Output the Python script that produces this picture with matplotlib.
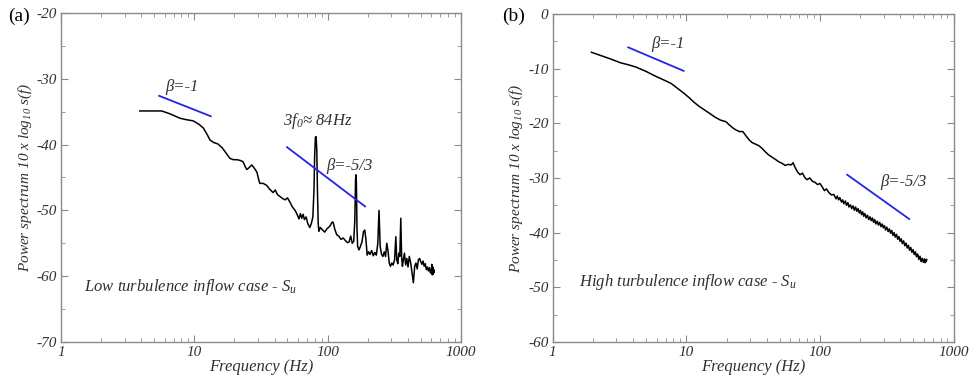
import matplotlib
matplotlib.use("Agg")
import matplotlib.pyplot as plt
from matplotlib.ticker import FixedLocator, LogLocator, MultipleLocator, NullFormatter

# ---- data ----
left_f = [3.9, 5.7, 6.5, 7.2, 7.8, 8.6, 9.8, 10.8, 11.7, 12.5, 13.1, 14.0, 15.0, 16.2, 17.3,
          18.5, 19.6, 20.8, 22.0, 23.2, 24.0, 24.8, 25.8, 27.0, 28.2, 29.5, 30.3, 31.0, 32.8,
          34.9, 36.8, 39.0, 40.5, 42.0, 44.0, 46.0, 48.0, 50.0, 52.0, 54.5, 57.0, 59.0, 61.0,
          62.5, 64.0, 65.5, 67.0, 69.0, 71.0, 73.5, 75.5, 77.5, 79.0, 80.0, 81.0, 82.0, 83.0,
          84.0, 85.0, 86.0, 88.0, 91.0, 95.0, 99.0, 104, 108, 110, 113, 117, 121, 126, 131,
          136, 141, 145, 149, 153, 157, 160, 162, 163, 164.5, 166, 168, 172, 176, 181, 186,
          190, 194, 198, 203, 208, 214, 220, 226, 232, 238, 243, 248, 254, 260, 266, 272,
          278, 284, 290, 296, 303, 310, 318, 325, 330, 336, 342, 348, 354, 359, 364, 370,
          377, 385, 393, 401, 410, 420, 430, 440, 450, 460, 470, 480, 490, 500, 510, 520,
          530, 540, 550, 560, 570, 580, 590, 600, 605, 610, 615, 620, 625, 630]
left_db = [-34.9, -34.9, -35.3, -35.7, -36.0, -36.2, -36.4, -36.9, -37.5, -38.5, -39.3, -39.7,
           -39.9, -40.5, -41.3, -42.1, -42.3, -42.3, -42.4, -42.6, -43.3, -43.8, -43.5, -43.1,
           -43.6, -44.2, -45.2, -45.9, -45.9, -46.2, -46.8, -47.3, -46.9, -47.6, -47.9, -48.2,
           -48.4, -48.1, -48.7, -49.5, -50.0, -50.6, -51.3, -50.5, -51.2, -50.6, -51.4, -51.0,
           -52.0, -52.6, -52.0, -51.0, -47.0, -41.5, -38.9, -38.8, -41.0, -47.5, -52.0, -53.2,
           -52.6, -52.9, -53.3, -52.8, -52.4, -51.8, -51.8, -52.8, -53.7, -53.9, -54.4, -54.2,
           -54.6, -54.9, -54.8, -53.9, -55.0, -54.7, -51.5, -45.5, -44.6, -46.0, -52.5, -55.5,
           -56.0, -55.5, -54.8, -53.2, -53.0, -54.5, -56.8, -56.3, -56.7, -56.1, -56.9, -56.4,
           -56.8, -55.0, -50.0, -55.5, -56.7, -57.0, -56.3, -57.0, -55.0, -56.2, -58.0, -58.5,
           -58.0, -58.3, -57.5, -54.0, -57.5, -58.1, -56.5, -57.0, -51.2, -57.0, -58.5, -57.5,
           -56.5, -58.3, -57.3, -58.6, -57.0, -58.0, -59.5, -61.0, -58.5, -58.0, -58.9, -57.5,
           -57.3, -57.8, -58.2, -57.7, -58.5, -58.1, -59.0, -58.6, -59.2, -58.7, -59.5, -59.0,
           -58.2, -59.8, -58.6, -59.7, -59.0, -59.4]

right_f = [1.95, 2.3, 2.7, 3.2, 3.7, 4.2, 5.0, 5.8, 6.7, 7.7, 8.6, 9.5, 10.5, 11.5, 12.5, 13.8,
           15.0, 16.5, 18.0, 19.8, 21.0, 22.5, 23.5, 25.0, 26.5, 28.0, 29.5, 31.0, 33.0, 35.0,
           37.0, 39.0, 41.5, 44.0, 46.5, 49.0, 52.0, 55.0, 58.0, 61.0, 63.0, 65.0, 68.0, 71.0,
           74.0, 77.0, 80.0, 84.0, 88.0, 92.0, 96.0, 100, 104, 108, 112, 117, 122, 127, 132,
           135, 138, 141, 145, 148, 151, 155, 158, 162, 165, 169, 173, 177, 181, 185, 189, 193,
           197, 201, 205, 209, 213, 217, 222, 227, 232, 237, 242, 247, 252, 257, 262, 268, 274,
           280, 286, 292, 298, 304, 310, 317, 324, 331, 338, 345, 352, 359, 366, 374, 382, 390,
           398, 406, 414, 423, 432, 441, 450, 459, 468, 478, 488, 498, 508, 518, 528, 539, 550,
           561, 572, 583, 594, 605, 612, 618, 624, 630]
right_db = [-7.0, -7.6, -8.2, -8.9, -9.3, -9.7, -10.5, -11.3, -12.0, -12.7, -13.6, -14.4, -15.3,
            -16.2, -16.9, -17.6, -18.2, -18.9, -19.4, -19.7, -20.3, -20.9, -21.2, -21.5, -21.5,
            -22.3, -23.0, -23.5, -23.8, -24.1, -24.6, -25.2, -25.8, -26.2, -26.6, -27.0, -27.3,
            -27.7, -27.5, -27.6, -27.2, -28.0, -28.9, -29.4, -29.1, -29.9, -30.3, -30.0, -30.6,
            -30.8, -31.2, -31.0, -31.6, -32.3, -32.0, -32.7, -33.1, -33.0, -33.8,
            -33.3, -34.0, -33.6, -34.4, -34.0, -34.7, -34.2, -35.0, -34.5, -35.3, -34.9, -35.6,
            -35.1, -35.9, -35.3, -36.1, -35.6, -36.4, -35.9, -36.7, -36.2, -37.0, -36.5, -37.3,
            -36.8, -37.6, -37.1, -37.8, -37.3, -38.1, -37.6, -38.4, -37.9, -38.6, -38.1, -38.9,
            -38.4, -39.1, -38.7, -39.5, -39.0, -39.8, -39.3, -40.1, -39.6, -40.5, -40.0, -40.8,
            -40.3, -41.2, -40.7, -41.6, -41.1, -42.0, -41.5, -42.4, -41.9, -42.8, -42.3, -43.2,
            -42.7, -43.6, -43.1, -44.0, -43.5, -44.4, -43.9, -44.9, -44.3, -45.3, -44.7, -45.4,
            -44.8, -45.5, -45.0, -45.3, -44.9]

# slope guide lines (start, end)
left_guides = [([5.45, 13.3], [-32.6, -35.7]), ([49.6, 191], [-40.4, -49.4])]
right_guides = [([3.68, 9.55], [-6.1, -10.4]), ([160, 466], [-29.4, -37.5])]

xticks = [1, 10, 100, 1000]
xticklabels = ["1", "10", "100", "1000"]

SERIF = ["Liberation Serif", "DejaVu Serif"]
TXT = "#303030"
SPINE = "#8a8a8a"

plt.rcParams["axes.unicode_minus"] = False
plt.rcParams["mathtext.fontset"] = "custom"
plt.rcParams["mathtext.it"] = "Liberation Serif:italic"
plt.rcParams["mathtext.rm"] = "Liberation Serif:italic"

fig = plt.figure(figsize=(9.73, 3.77), dpi=100)
axL = fig.add_axes([0.0627, 0.0928, 0.411, 0.873])
axR = fig.add_axes([0.568, 0.0928, 0.412, 0.870])


def style(ax, ylim, yticks):
    ax.set_xscale("log")
    ax.set_xlim(1, 1000)
    ax.set_ylim(*ylim)
    ax.xaxis.set_major_locator(FixedLocator(xticks))
    ax.set_xticklabels(xticklabels)
    ax.xaxis.set_minor_locator(LogLocator(base=10, subs=range(2, 10)))
    ax.xaxis.set_minor_formatter(NullFormatter())
    ax.set_yticks(yticks)
    ax.yaxis.set_minor_locator(MultipleLocator(5))
    ax.tick_params(which="both", direction="in", top=True, right=True, color=SPINE)
    ax.tick_params(which="major", length=5, width=0.8, pad=3)
    ax.tick_params(which="minor", length=3, width=0.6)
    for lab in ax.get_xticklabels() + ax.get_yticklabels():
        lab.set_family(SERIF)
        lab.set_style("italic")
        lab.set_fontsize(11)
        lab.set_color(TXT)
    for sp in ax.spines.values():
        sp.set_color(SPINE)
        sp.set_linewidth(1.0)
    ax.set_xlabel("Frequency (Hz)", family=SERIF, style="italic", fontsize=12,
                  color=TXT, labelpad=0)
    ax.set_ylabel(r"Power spectrum 10 x log$_{10}$ s(f)", family=SERIF, style="italic",
                  fontsize=11, color=TXT, labelpad=2)


# panel (a)
axL.plot(left_f, left_db, color="black", lw=1.1)
for gx, gy in left_guides:
    axL.plot(gx, gy, color="#2424e6", lw=1.3)
style(axL, (-70, -20), range(-70, -19, 10))
tk = dict(family=SERIF, style="italic", fontsize=12, color=TXT)
axL.text(8.1, -31.2, "β=-1", ha="center", va="center", **tk)
axL.text(85, -36.4, r"3f$_0$≈ 84Hz", ha="center", va="center", **tk)
axL.text(145, -43.2, "β=-5/3", ha="center", va="center", **tk)
axL.text(1.5, -61.7, r"Low turbulence inflow case - S$_u$", ha="left", va="center", **tk)

# panel (b)
axR.plot(right_f, right_db, color="black", lw=1.1)
for gx, gy in right_guides:
    axR.plot(gx, gy, color="#2424e6", lw=1.3)
style(axR, (-60, 0), range(-60, 1, 10))
axR.text(7.25, -5.4, "β=-1", ha="center", va="center", **tk)
axR.text(424, -30.8, "β=-5/3", ha="center", va="center", **tk)
axR.text(1.58, -49.1, r"High turbulence inflow case - S$_u$", ha="left", va="center", **tk)

fig.text(0.008, 0.957, "(a)", family=SERIF, fontsize=14, color="black", va="center")
fig.text(0.516, 0.957, "(b)", family=SERIF, fontsize=14, color="black", va="center")

fig.savefig("out.png", dpi=100)
